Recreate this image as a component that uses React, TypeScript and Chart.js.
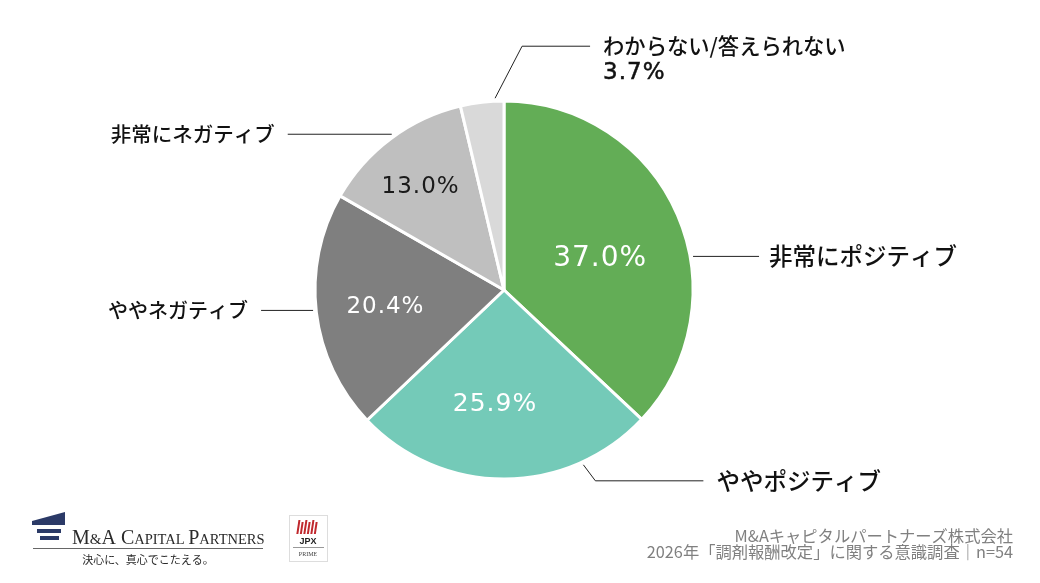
import React, { useEffect, useRef } from "react";
import { Chart } from "chart.js/auto";

// Survey answers and their shares (%)
const categories = ["非常にポジティブ", "ややポジティブ", "ややネガティブ", "非常にネガティブ", "わからない/答えられない"];
const shares = [37.0, 25.9, 20.4, 13.0, 3.7];
const sliceColors = ["#63ad56", "#74cab8", "#7f7f7f", "#bfbfbf", "#d9d9d9"];

// Footer notes
const footerLines = ["M&Aキャピタルパートナーズ株式会社", "2026年「調剤報酬改定」に関する意識調査｜n=54"];

// Inside value labels: [angle fraction within slice, radius fraction, font px, color] (null = shown outside)
const innerLabelStyle: ([number, number, number, string] | null)[] = [
  [0.54, 0.535, 28, "#ffffff"],
  [0.55, 0.61, 25, "#ffffff"],
  [0.48, 0.634, 23, "#ffffff"],
  [0.45, 0.7, 23, "#1a1a1a"],
  null,
];

// Leader lines: anchor fraction within slice, elbow offset, horizontal run (signed), text gap, font px
const leaderStyle = [
  { at: 0.6, elbow: [0, 0], run: 66, gap: 10, size: 23.5, showValue: false },
  { at: 0.24, elbow: [12, 16], run: 108, gap: 13, size: 23.5, showValue: false },
  { at: 0.51, elbow: [0, 0], run: -52, gap: 13, size: 20, showValue: false },
  { at: 0.52, elbow: [0, 0], run: -104, gap: 13, size: 20.5, showValue: false },
  { at: 0.8, elbow: [27, -52], run: 68, gap: 13, size: 21.3, showValue: true },
];

const JP = '"Noto Sans CJK JP", "Noto Sans", sans-serif';
const NUM = '"DejaVu Sans", "Noto Sans", sans-serif';

const labelPlugin = {
  id: "sliceLabels",
  afterDatasetsDraw(chart: any) {
    const ctx: any = chart.ctx;
    const meta = chart.getDatasetMeta(0);
    meta.data.forEach((arc: any, i: number) => {
      const { x, y, startAngle, endAngle, outerRadius } = arc.getProps(
        ["x", "y", "startAngle", "endAngle", "outerRadius"],
        true
      );
      const span = endAngle - startAngle;
      const valueText = shares[i].toFixed(1) + "%";

      const inner = innerLabelStyle[i];
      if (inner) {
        const a = startAngle + span * inner[0];
        const r = outerRadius * inner[1];
        ctx.save();
        ctx.font = `${inner[2]}px ${NUM}`;
        ctx.letterSpacing = "1px";
        ctx.fillStyle = inner[3];
        ctx.textAlign = "center";
        ctx.textBaseline = "middle";
        ctx.fillText(valueText, x + Math.cos(a) * r, y + Math.sin(a) * r);
        ctx.restore();
      }

      const ld = leaderStyle[i];
      const a = startAngle + span * ld.at;
      const r0 = outerRadius + 3;
      const sx = x + Math.cos(a) * r0;
      const sy = y + Math.sin(a) * r0;
      const ex = sx + ld.elbow[0];
      const ey = sy + ld.elbow[1];
      const fx = ex + ld.run;
      ctx.save();
      ctx.strokeStyle = "#222";
      ctx.lineWidth = 1;
      ctx.beginPath();
      ctx.moveTo(sx, sy);
      ctx.lineTo(ex, ey);
      ctx.lineTo(fx, ey);
      ctx.stroke();
      ctx.fillStyle = "#111";
      ctx.font = `500 ${ld.size}px ${JP}`;
      ctx.textBaseline = "middle";
      const right = ld.run >= 0;
      ctx.textAlign = right ? "left" : "right";
      const tx = right ? fx + ld.gap : fx - ld.gap;
      ctx.fillText(categories[i], tx, ey);
      if (ld.showValue) {
        ctx.font = `23px ${NUM}`;
        ctx.letterSpacing = "1px";
        ctx.lineWidth = 0.5;
        ctx.strokeStyle = "#111";
        ctx.fillText(valueText, tx, ey + 27);
        ctx.strokeText(valueText, tx, ey + 27);
      }
      ctx.restore();
    });
  },
};

// Company marks and footer text
const footerPlugin = {
  id: "footer",
  afterDraw(chart: any) {
    const ctx: CanvasRenderingContext2D = chart.ctx;
    ctx.save();

    // footer notes, right aligned
    ctx.fillStyle = "#808080";
    ctx.font = `16.3px ${JP}`;
    ctx.textAlign = "right";
    ctx.textBaseline = "middle";
    ctx.fillText(footerLines[0], 1013, 536);
    ctx.fillText(footerLines[1], 1013, 552);

    // M&A Capital Partners mark
    ctx.fillStyle = "#2b3a67";
    ctx.beginPath();
    ctx.moveTo(32, 521);
    ctx.lineTo(65, 512);
    ctx.lineTo(65, 525);
    ctx.lineTo(32, 525);
    ctx.closePath();
    ctx.fill();
    ctx.fillRect(37, 529, 24, 4);
    ctx.fillRect(40, 536, 19, 4);

    // small-caps wordmark
    ctx.fillStyle = "#2a2a2a";
    ctx.textAlign = "left";
    ctx.textBaseline = "alphabetic";
    const parts: [string, number][] = [
      ["M", 20], ["&", 15], ["A ", 20], ["C", 20], ["APITAL ", 14.5], ["P", 20], ["ARTNERS", 14.5],
    ];
    let cx = 72;
    parts.forEach(([t, s]) => {
      ctx.font = `${s}px "Liberation Serif", serif`;
      ctx.fillText(t, cx, 544);
      cx += ctx.measureText(t).width;
    });
    ctx.strokeStyle = "#666";
    ctx.lineWidth = 1;
    ctx.beginPath();
    ctx.moveTo(33, 548.5);
    ctx.lineTo(263, 548.5);
    ctx.stroke();
    ctx.font = `11px ${JP}`;
    ctx.textAlign = "center";
    ctx.textBaseline = "middle";
    ctx.fillText("決心に、真心でこたえる。", 148, 560);

    // JPX Prime badge
    ctx.strokeStyle = "#dddddd";
    ctx.strokeRect(289.5, 515.5, 38, 46);
    ctx.fillStyle = "#c0282d";
    for (let k = 0; k < 6; k++) {
      ctx.save();
      ctx.translate(298 + k * 3.5, 523);
      ctx.transform(1, 0, -0.15, 1, 0, 0);
      ctx.fillRect(0, -3 + (k % 2) * 2, 2, 14 - (k % 2) * 2);
      ctx.restore();
    }
    ctx.fillStyle = "#222";
    ctx.font = `bold 9px "Liberation Sans", sans-serif`;
    ctx.fillText("JPX", 308, 542);
    ctx.strokeStyle = "#999";
    ctx.beginPath();
    ctx.moveTo(293, 547.5);
    ctx.lineTo(324, 547.5);
    ctx.stroke();
    ctx.fillStyle = "#444";
    ctx.font = `6px "Liberation Serif", serif`;
    ctx.fillText("PRIME", 308, 554);

    ctx.restore();
  },
};

export default function App() {
  const canvasRef = useRef<HTMLCanvasElement | null>(null);

  useEffect(() => {
    const canvas = canvasRef.current;
    if (!canvas) return;
    const chart = new Chart(canvas, {
      type: "pie",
      data: {
        labels: categories,
        datasets: [
          {
            data: shares,
            backgroundColor: sliceColors,
            borderColor: "#ffffff",
            borderWidth: 3,
            hoverOffset: 0,
          },
        ],
      },
      options: {
        responsive: false,
        animation: false,
        devicePixelRatio: 1,
        layout: { padding: { left: 313.5, right: 345.5, top: 99.5, bottom: 102.5 } },
        plugins: {
          legend: { display: false },
          tooltip: { enabled: false },
        },
      },
      plugins: [labelPlugin, footerPlugin],
    });
    return () => chart.destroy();
  }, []);

  return (
    <div style={{ position: "fixed", left: 0, top: 0, width: 1040, height: 583, background: "#ffffff" }}>
      <canvas ref={canvasRef} width={1040} height={583} />
    </div>
  );
}
